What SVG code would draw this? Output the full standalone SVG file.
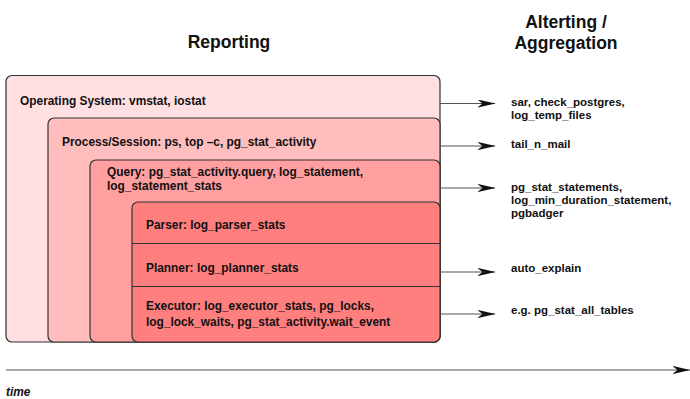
<svg xmlns="http://www.w3.org/2000/svg" width="690" height="399" viewBox="0 0 690 399">
<style>
.box{stroke:#333;stroke-width:1.2}
.lbl{font-family:"Liberation Sans",Arial,sans-serif;font-weight:bold;font-size:11.9px;fill:#111}
.tgt{font-family:"Liberation Sans",Arial,sans-serif;font-weight:bold;font-size:11.5px;fill:#111}
.hdr{font-family:"Liberation Sans",Arial,sans-serif;font-weight:bold;font-size:17.5px;fill:#111;text-anchor:middle}
.conn{stroke:#555;stroke-width:1.2;fill:none}
</style>
<defs>
<marker id="ah" viewBox="0 0 18 8" refX="17.5" refY="4" markerWidth="18" markerHeight="8" markerUnits="userSpaceOnUse" orient="auto">
<path d="M0,0 L18,4 L0,8 L5,4 Z" fill="#111"/>
</marker>
</defs>
<rect width="690" height="399" fill="#fff"/>
<text class="hdr" x="229" y="48">Reporting</text>
<text class="hdr" x="566" y="28">Alterting /</text>
<text class="hdr" x="566" y="49">Aggregation</text>
<g id="os">
<rect class="box" x="6" y="75.5" width="434" height="266.5" rx="6" fill="#ffdfe1"/>
<text class="lbl" x="20" y="105">Operating System: vmstat, iostat</text>
</g>
<g id="process">
<rect class="box" x="48" y="118" width="392" height="224" rx="6" fill="#ffbdbd"/>
<text class="lbl" x="62" y="146">Process/Session: ps, top –c, pg_stat_activity</text>
</g>
<g id="query">
<rect class="box" x="90" y="160" width="350" height="182" rx="6" fill="#ff9f9f"/>
<text class="lbl" x="107" y="176">Query: pg_stat_activity.query, log_statement,</text>
<text class="lbl" x="107" y="190">log_statement_stats</text>
</g>
<g id="internals">
<rect class="box" x="132" y="202" width="308" height="140" rx="6" fill="#ff7f7f"/>
<line class="box" x1="132" y1="243.5" x2="440" y2="243.5"/>
<line class="box" x1="132" y1="286.5" x2="440" y2="286.5"/>
<text class="lbl" x="146" y="229">Parser: log_parser_stats</text>
<text class="lbl" x="146" y="272">Planner: log_planner_stats</text>
<text class="lbl" x="146" y="310">Executor: log_executor_stats, pg_locks,</text>
<text class="lbl" x="146" y="326">log_lock_waits, pg_stat_activity.wait_event</text>
</g>
<g id="connectors">
<line class="conn" x1="440" y1="103.5" x2="495" y2="103.5" marker-end="url(#ah)"/>
<line class="conn" x1="440" y1="146" x2="495" y2="146" marker-end="url(#ah)"/>
<line class="conn" x1="440" y1="188" x2="495" y2="188" marker-end="url(#ah)"/>
<line class="conn" x1="440" y1="272" x2="495" y2="272" marker-end="url(#ah)"/>
<line class="conn" x1="440" y1="314" x2="495" y2="314" marker-end="url(#ah)"/>
<line class="conn" x1="6" y1="370" x2="690" y2="370" marker-end="url(#ah)"/>
</g>
<g id="targets">
<text class="tgt" x="511" y="106">sar, check_postgres,</text>
<text class="tgt" x="511" y="119">log_temp_files</text>
<text class="tgt" x="511" y="148">tail_n_mail</text>
<text class="tgt" x="511" y="191">pg_stat_statements,</text>
<text class="tgt" x="511" y="204">log_min_duration_statement,</text>
<text class="tgt" x="511" y="217">pgbadger</text>
<text class="tgt" x="511" y="272">auto_explain</text>
<text class="tgt" x="511" y="314">e.g. pg_stat_all_tables</text>
</g>
<text class="lbl" x="6" y="396" font-style="italic" font-size="11px">time</text>
</svg>
